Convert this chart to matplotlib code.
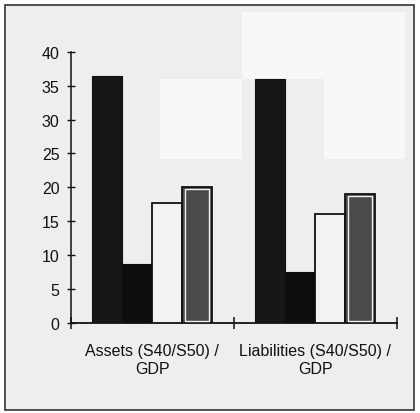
import numpy as np
import matplotlib.pyplot as plt
from matplotlib.patches import Rectangle

categories = ['Assets (S40/S50) /\nGDP', 'Liabilities (S40/S50) /\nGDP']
series_1 = [36.4, 36.0]
series_2 = [8.7, 7.5]
series_3 = [17.7, 16.1]
series_4 = [20.0, 19.0]
y_ticks = [0, 5, 10, 15, 20, 25, 30, 35, 40]

plt.rcParams['font.family'] = ['Liberation Sans', 'DejaVu Sans']

fig = plt.figure(figsize=(4.2, 4.14), dpi=100)
fig.patch.set_facecolor('white')

# scanned page frame and light grey panel
fig.patches.append(Rectangle((5 / 420, 3 / 414), 409 / 420, 405 / 414,
                             transform=fig.transFigure, facecolor='#eeeeee',
                             edgecolor='#333333', linewidth=1.2, zorder=-2))
# pale patches left over from the scan
for x0, y0, w, h in [(242, 334, 163, 67), (160, 254, 82, 80), (324, 254, 81, 80)]:
    fig.patches.append(Rectangle((x0 / 420, y0 / 414), w / 420, h / 414,
                                 transform=fig.transFigure, facecolor='#f8f8f8',
                                 edgecolor='none', zorder=-1))

ax = fig.add_axes([70.5 / 420, (414 - 324) / 414, (397 - 70.5) / 420, (324 - 52.7) / 414])
ax.set_facecolor('none')
ax.set_zorder(2)

x = np.arange(len(categories))
w = 0.184
offsets = np.array([-1.5, -0.5, 0.5, 1.5]) * w

ax.bar(x + offsets[0], series_1, w, color='#161616', edgecolor='#111111', linewidth=0.8, zorder=3)
ax.bar(x + offsets[1], series_2, w, color='#0d0d0d', edgecolor='#0d0d0d', linewidth=0.8, zorder=3)
ax.bar(x + offsets[2], series_3, w, color='#f2f2f2', edgecolor='#111111', linewidth=1.3, zorder=3)
ax.bar(x + offsets[3], series_4, w, color='#4a4a4a', edgecolor='#111111', linewidth=1.3, zorder=3)
# inner white rim on the stippled bars
ax.bar(x + offsets[3], np.array(series_4) - 0.5, w * 0.8, bottom=0.25, color='#4a4a4a',
       edgecolor='#f0f0f0', linewidth=1.0, zorder=4)

ax.set_xlim(-0.5, 1.5)
ax.set_ylim(0, 40)
ax.set_yticks(y_ticks)
ax.set_yticklabels([str(t) for t in y_ticks], fontsize=11.5, color='#111111')
ax.set_xticks([-0.5, 0.5, 1.5])
ax.set_xticklabels(['', '', ''])
ax.tick_params(axis='x', direction='inout', length=8, width=1.1, color='#111111')
ax.tick_params(axis='y', direction='inout', length=6, width=1.0, color='#111111', pad=5)

for i, c in enumerate(categories):
    ax.text(x[i], -3.0, c, ha='center', va='top', fontsize=11.5, linespacing=1.2,
            color='#111111')

for s in ['top', 'right']:
    ax.spines[s].set_visible(False)
ax.spines['left'].set_linewidth(1.1)
ax.spines['bottom'].set_linewidth(1.3)
ax.spines['left'].set_color('#111111')
ax.spines['bottom'].set_color('#111111')

fig.savefig('out.png', dpi=100, facecolor=fig.get_facecolor())
